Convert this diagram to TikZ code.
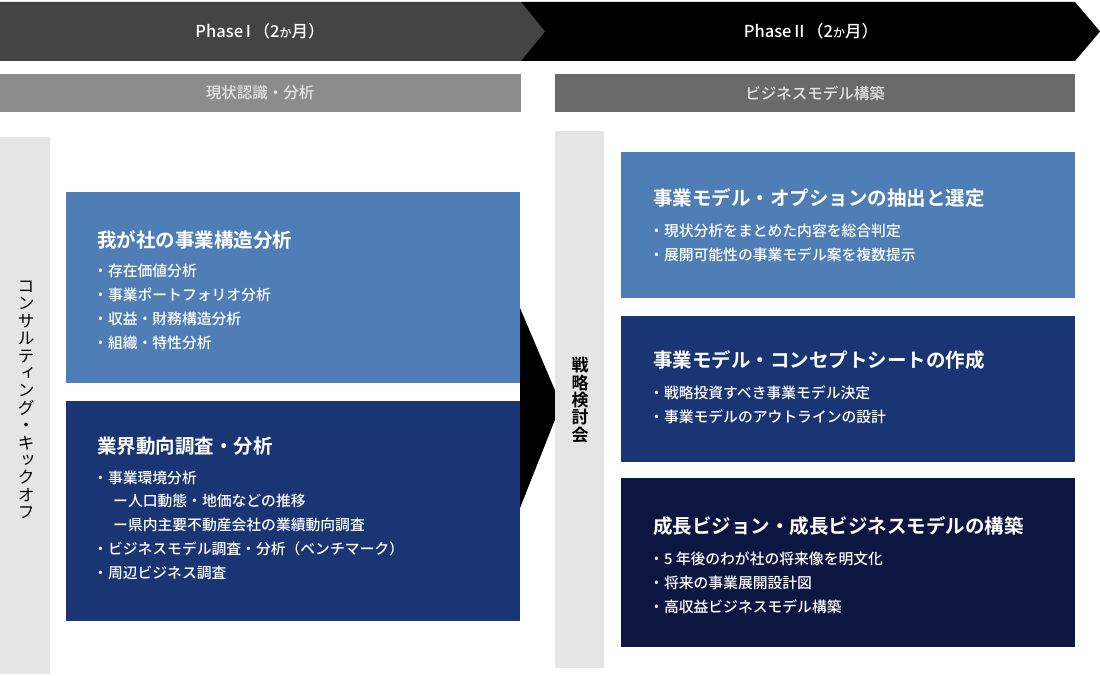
\documentclass[tikz,border=0pt]{standalone}
\usepackage{fontspec}
\setmainfont{Noto Sans CJK JP Medium}[BoldFont={Noto Sans CJK JP Bold}]
\newfontfamily\vjp[RawFeature=+vert]{Noto Sans CJK JP}
\newfontfamily\vjpb[RawFeature=+vert]{Noto Sans CJK JP Bold}
\usetikzlibrary{positioning}
\definecolor{phaseone}{HTML}{444444}
\definecolor{subone}{HTML}{8C8C8C}
\definecolor{subtwo}{HTML}{6A6A6A}
\definecolor{subtext}{HTML}{E4E4E4}
\definecolor{bar}{HTML}{E5E5E5}
\definecolor{lightblue}{HTML}{4F7EB6}
\definecolor{navy}{HTML}{1A3574}
\definecolor{deepnavy}{HTML}{0D1641}

\begin{document}
\begin{tikzpicture}[x=1pt,y=-1pt,node distance=17pt,
  box/.style={minimum width=454pt,inner sep=0pt,anchor=north west},
  ttl/.style={anchor=west,inner sep=0pt,text=white,font=\bfseries\fontsize{19.5}{19.5}\selectfont},
  items/.style={anchor=north west,inner sep=0pt,align=left,text=white,font=\fontsize{14.8}{23.8}\selectfont},
  phase/.style={text=white,font=\fontsize{16.5}{16.5}\selectfont},
  sub/.style={text=subtext,font=\fontsize{15.5}{15.5}\selectfont},
  vtext/.style={align=center,inner sep=0pt,text width=18pt,font=\vjp\fontsize{17}{17.4}\selectfont}]
\useasboundingbox (0,0) rectangle (1100,676);

% phases
\fill[black] (521,2) -- (1075,2) -- (1100,31.5) -- (1075,61) -- (521,61) -- cycle;
\fill[phaseone] (0,2) -- (521,2) -- (545,31.5) -- (521,61) -- (0,61) -- cycle;
\node[phase] (p1) at (260,31.5) {Phase\,I\,（2{\fontsize{12}{12}\selectfont か}月）};
\node[phase] (p2) at (811,31.5) {Phase\,II\,（2{\fontsize{12}{12}\selectfont か}月）};

\fill[subone] (0,74) rectangle (521,112);
\fill[subtwo] (555,74) rectangle (1075,112);
\node[sub] (s1) at (260,93) {現状認識・分析};
\node[sub] (s2) at (815,93) {ビジネスモデル構築};

% arrow between phases
\fill[black] (520,308) -- (561,404.5) -- (520,508) -- cycle;

% side bars
\fill[bar] (0,137) rectangle (50,674);
\fill[bar] (555,131) rectangle (604,668);
\node[vtext] (kick) at (26,400) {コ\\ン\\サ\\ル\\テ\\ィ\\ン\\グ\\・\\キ\\ッ\\ク\\オ\\フ};
\node[vtext,font=\vjpb\fontsize{17}{17.4}\selectfont] (meet) at (580,400) {戦\\略\\検\\討\\会};

% phase I boxes
\node[box,fill=lightblue,minimum height=191pt] (a) at (66,192) {};
\node[box,fill=navy,minimum height=220pt] (b) [below=17pt of a] {};
\node[ttl] (at) at ([shift={(31,48)}]a.north west) {我が社の事業構造分析};
\node[items] (ai) at ([shift={(27,72)}]a.north west) {・存在価値分析\\・事業ポートフォリオ分析\\・収益・財務構造分析\\・組織・特性分析};
\node[ttl] (bt) at ([shift={(31,46)}]b.north west) {業界動向調査・分析};
\node[items] (bi) at ([shift={(27,70)}]b.north west) {・事業環境分析\\\hspace*{20pt}ー人口動態・地価などの推移\\\hspace*{20pt}ー県内主要不動産会社の業績動向調査\\・ビジネスモデル調査・分析（ベンチマーク）\\・周辺ビジネス調査};

% phase II boxes
\node[box,fill=lightblue,minimum height=146pt] (c) at (621,152) {};
\node[box,fill=navy,minimum height=146pt] (d) [below=17pt of c] {};
\node[box,fill=deepnavy,minimum height=169pt] (e) [below=16pt of d] {};
\node[ttl] (ct) at ([shift={(32,46)}]c.north west) {事業モデル・オプションの抽出と選定};
\node[items] (ci) at ([shift={(28,72)}]c.north west) {・現状分析をまとめた内容を総合判定\\・展開可能性の事業モデル案を複数提示};
\node[ttl] (dt) at ([shift={(32,45)}]d.north west) {事業モデル・コンセプトシートの作成};
\node[items] (di) at ([shift={(28,70)}]d.north west) {・戦略投資すべき事業モデル決定\\・事業モデルのアウトラインの設計};
\node[ttl] (et) at ([shift={(32,48)}]e.north west) {成長ビジョン・成長ビジネスモデルの構築};
\node[items] (ei) at ([shift={(28,74)}]e.north west) {・5 年後のわが社の将来像を明文化\\・将来の事業展開設計図\\・高収益ビジネスモデル構築};
\end{tikzpicture}
\end{document}
